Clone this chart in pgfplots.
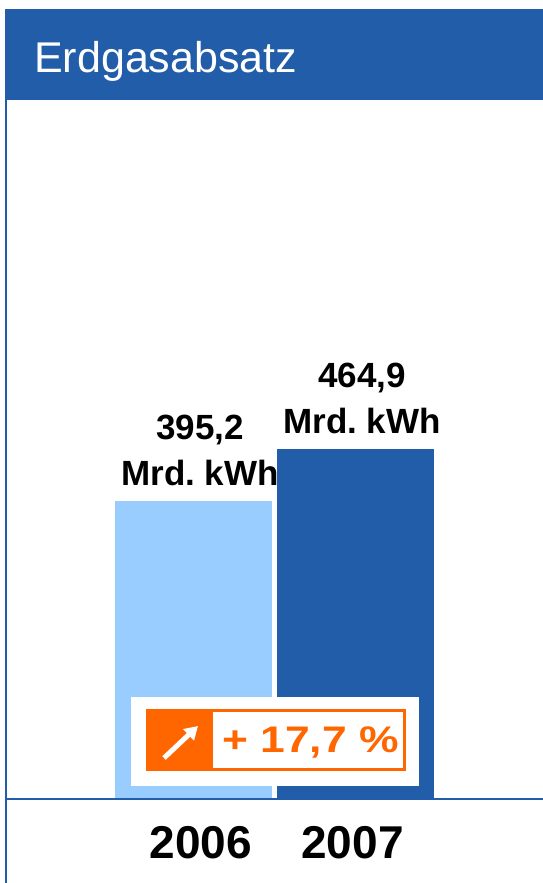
\documentclass[border=0pt]{standalone}
\usepackage{fontspec}
\setmainfont{Liberation Sans}
\newfontfamily\widef[FakeStretch=1.2]{Liberation Sans}
\usepackage{pgfplots}
\pgfplotsset{compat=1.18}
\usetikzlibrary{arrows.meta}
\definecolor{dblue}{RGB}{33,93,168}
\definecolor{lblue}{RGB}{153,204,255}
\definecolor{orng}{RGB}{255,102,0}
\begin{document}
\begin{tikzpicture}[x=1pt,y=1pt]
\useasboundingbox (0,0) rectangle (543,883);
% title bar
\fill[dblue] (5,783) rectangle (543,874);
\node[anchor=base west, text=white, inner sep=0pt, font=\fontsize{43}{50}\selectfont] at (34,810) {Erdgasabsatz};
% frame lines
\draw[dblue, line width=2pt] (6,0) -- (6,783);
\begin{axis}[
  at={(6pt,84pt)}, anchor=south west,
  scale only axis, width=537pt, height=699pt,
  xmin=-1.157, xmax=2.157, ymin=0, ymax=927.8,
  axis line style={draw=none},
  ytick=\empty,
  xtick={0.046,0.981}, xticklabels={2006,2007},
  major tick length=0pt,
  xticklabel style={anchor=base, yshift=-59pt, inner sep=0pt, font=\bfseries\fontsize{46}{50}\selectfont},
  ybar, bar width=157pt,
  clip=false,
  nodes near coords={\pgfmathprintnumber[fixed,precision=1,fixed zerofill,use comma,assume math mode=true]{\pgfplotspointmeta}\\Mrd.~kWh},
  nodes near coords align={vertical},
  every node near coord/.append style={align=center, anchor=south, inner sep=0pt, xshift=6.5pt, yshift=15pt, text=black, font=\bfseries\fontsize{35}{46}\selectfont},
]
\addplot[fill=lblue, draw=none, bar shift=0pt] coordinates {(0,395.2)};
\addplot[fill=dblue, draw=none, bar shift=0pt] coordinates {(1,464.9)};
\end{axis}
\draw[dblue, line width=2pt] (6,84) -- (543,84);
% badge
\fill[white] (131,97) rectangle (419,186);
\fill[orng] (146,112) rectangle (213,174);
\draw[orng, line width=3pt] (147.5,113.5) rectangle (404.5,172.5);
\draw[white, line width=5pt, -{Triangle[length=13pt,width=15pt]}] (164,125) -- (198,157);
\node[anchor=base, text=orng, inner sep=0pt, font=\widef\bfseries\fontsize{37}{40}\selectfont] at (310.5,130) {+ 17,7 \%};
\end{tikzpicture}
\end{document}
